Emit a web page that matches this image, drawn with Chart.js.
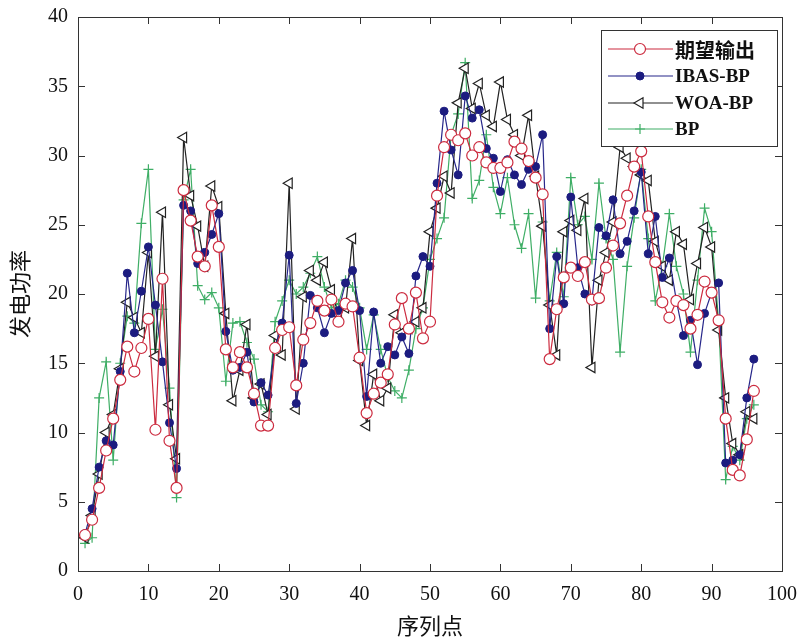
<!DOCTYPE html>
<html>
<head>
<meta charset="utf-8">
<script src="https://cdn.jsdelivr.net/npm/chart.js@4.4.1/dist/chart.umd.min.js"></script>
<style>
  html, body { margin: 0; padding: 0; background: #fff; }
  #wrap { width: 805px; height: 639px; position: relative; }
</style>
</head>
<body>
<div id="wrap"><canvas id="powerChart"></canvas></div>
<script>
// 序列点 1..96
const seqPoints = Array.from({ length: 96 }, (_, i) => i + 1);

const expectedOut = [
  2.6, 3.7, 6.0, 8.7, 11.0, 13.8, 16.2, 14.4, 16.1, 18.2,
  10.2, 21.1, 9.4, 6.0, 27.5, 25.3, 22.7, 22.0, 26.4, 23.4,
  16.0, 14.7, 15.8, 14.7, 12.8, 10.5, 10.5, 16.1, 17.4, 17.6,
  13.4, 16.7, 17.9, 19.5, 18.8, 19.6, 18.0, 19.3, 19.1, 15.4,
  11.4, 12.8, 13.6, 14.2, 17.8, 19.7, 17.5, 20.1, 16.8, 18.0,
  27.1, 30.6, 31.5, 31.1, 31.6, 30.0, 30.6, 29.5, 29.1, 29.1,
  29.5, 31.0, 30.5, 29.6, 28.4, 27.2, 15.3, 18.9, 21.2, 21.9,
  21.3, 22.3, 19.6, 19.7, 21.9, 23.5, 25.1, 27.1, 29.2, 30.3,
  25.6, 22.3, 19.4, 18.3, 19.5, 19.2, 17.5, 18.5, 20.9, 20.1,
  18.1, 11.0, 7.3, 6.9, 9.5, 13.0
];

const ibasBP = [
  2.7, 4.5, 7.5, 9.4, 9.1, 14.4, 21.5, 17.2, 20.2, 23.4,
  19.2, 15.1, 10.7, 7.4, 26.4, 26.0, 22.2, 23.0, 24.3, 25.8,
  17.3, 14.5, 14.7, 15.8, 12.2, 13.6, 12.7, 16.2, 17.9, 22.8,
  12.1, 15.0, 19.9, 19.0, 17.2, 18.6, 18.8, 20.8, 21.7, 18.8,
  12.6, 18.7, 15.0, 16.2, 15.6, 16.9, 15.7, 21.3, 22.7, 22.0,
  28.0, 33.2, 30.4, 28.6, 34.3, 32.7, 33.3, 30.5, 29.8, 27.4,
  29.7, 28.6, 27.9, 29.0, 29.2, 31.5, 17.5, 22.7, 19.3, 27.0,
  21.9, 20.0, 19.5, 24.8, 24.2, 26.8, 22.9, 23.8, 26.0, 28.8,
  22.9, 25.6, 21.2, 22.6, 19.5, 17.0, 18.1, 14.9, 18.6, 20.1,
  20.8, 7.8, 8.0, 8.4, 12.5, 15.3
];

const woaBP = [
  2.4, 4.0, 7.0, 10.0, 11.3, 14.6, 19.4, 18.3, 17.2, 23.0,
  15.5, 25.9, 12.0, 8.1, 31.3, 27.1, 24.9, 22.0, 27.8, 26.3,
  18.6, 12.3, 14.5, 17.8, 12.5, 13.5, 11.3, 17.0, 15.6, 28.0,
  11.7, 19.8, 21.7, 21.0, 22.3, 20.3, 18.5, 19.0, 24.0, 15.2,
  10.5, 14.2, 12.3, 13.2, 18.5, 17.2, 17.5, 18.0, 19.0, 24.5,
  26.2, 28.5, 27.3, 33.8, 36.3, 33.4, 35.2, 32.9, 32.1, 35.3,
  32.6, 31.5, 30.0, 32.9, 28.5, 24.9, 19.2, 15.6, 24.5, 25.3,
  24.6, 26.9, 14.7, 21.0, 23.0, 25.2, 30.6, 29.8, 29.2, 28.6,
  28.2, 23.8, 22.0, 21.0, 24.5, 23.6, 19.6, 22.2, 24.8, 23.4,
  17.4, 12.5, 9.2, 8.4, 11.5, 11.0
];

const plainBP = [
  2.0, 2.4, 12.5, 15.1, 8.0, 15.0, 18.4, 17.9, 25.1, 29.0,
  16.0, 18.9, 13.2, 5.3, 26.8, 29.0, 20.6, 19.6, 20.1, 19.0,
  13.7, 17.9, 18.0, 16.5, 15.3, 12.0, 11.5, 18.0, 19.5, 21.0,
  20.0, 20.5, 21.5, 22.7, 20.5, 19.0, 19.3, 21.0, 20.5, 19.0,
  16.0, 18.5, 16.0, 14.0, 13.0, 12.5, 14.5, 17.5, 19.0, 22.5,
  24.0, 25.5, 31.5, 33.0, 36.7, 26.9, 28.2, 31.5, 27.7, 25.8,
  28.4, 25.0, 23.3, 25.8, 19.7, 25.2, 19.5, 23.0, 19.8, 28.4,
  25.0, 25.6, 22.5, 28.0, 24.0, 22.5, 15.8, 22.0, 25.5, 29.0,
  24.0, 19.5, 22.0, 25.8, 22.0, 20.0, 15.8, 21.0, 26.2, 24.5,
  18.0, 6.6, 9.0, 8.0, 11.0, 12.0
];

const yTicks = [0, 5, 10, 15, 20, 25, 30, 35, 40];
const xTicks = [0, 10, 20, 30, 40, 50, 60, 70, 80, 90, 100];

const serif = '"Liberation Serif", "Times New Roman", serif';
const cjk = '"Noto Sans CJK SC", sans-serif';

function toPoints(arr) {
  return arr.map((v, i) => ({ x: seqPoints[i], y: v }));
}

// 边框 + 向内刻度 (MATLAB 风格)
const frameTicks = {
  id: 'frameTicks',
  afterDraw(chart) {
    const { ctx, chartArea: a, scales } = chart;
    ctx.save();
    ctx.strokeStyle = '#333';
    ctx.lineWidth = 1;
    ctx.strokeRect(a.left + 0.5, a.top + 0.5, a.right - a.left, a.bottom - a.top);
    const len = 7;
    ctx.beginPath();
    xTicks.forEach(t => {
      const px = Math.round(scales.x.getPixelForValue(t)) + 0.5;
      ctx.moveTo(px, a.bottom); ctx.lineTo(px, a.bottom - len);
      ctx.moveTo(px, a.top); ctx.lineTo(px, a.top + len);
    });
    yTicks.forEach(t => {
      const py = Math.round(scales.y.getPixelForValue(t)) + 0.5;
      ctx.moveTo(a.left, py); ctx.lineTo(a.left + len, py);
      ctx.moveTo(a.right, py); ctx.lineTo(a.right - len, py);
    });
    ctx.stroke();
    ctx.restore();
  }
};

// 图例框
const legendBox = {
  id: 'legendBox',
  afterDraw(chart) {
    const ctx = chart.ctx;
    const bx = 601, by = 30, bw = 176, bh = 116;
    ctx.save();
    ctx.fillStyle = '#fff';
    ctx.fillRect(bx, by, bw, bh);
    ctx.strokeStyle = '#333';
    ctx.lineWidth = 1;
    ctx.strokeRect(bx + 0.5, by + 0.5, bw, bh);
    const rows = [49, 76, 103, 129];
    chart.data.datasets.forEach((ds, i) => {
      const y = rows[i];
      ctx.strokeStyle = ds.borderColor;
      ctx.lineWidth = 1.2;
      ctx.beginPath();
      ctx.moveTo(608, y); ctx.lineTo(673, y);
      ctx.stroke();
      ctx.fillStyle = ds.pointBackgroundColor;
      ctx.strokeStyle = ds.pointBorderColor;
      ctx.lineWidth = ds.pointBorderWidth;
      Chart.helpers.drawPoint(ctx, {
        pointStyle: ds.pointStyle,
        rotation: ds.pointRotation || 0,
        radius: ds.pointRadius,
        borderWidth: ds.pointBorderWidth
      }, 640, y);
      ctx.fillStyle = '#111';
      ctx.textBaseline = 'middle';
      ctx.textAlign = 'left';
      ctx.font = i === 0 ? 'bold 20px ' + cjk : 'bold 19px ' + serif;
      ctx.fillText(ds.label, 675, y + 1);
    });
    ctx.restore();
  }
};

const ctx = document.getElementById('powerChart').getContext('2d');

new Chart(ctx, {
  type: 'line',
  data: {
    datasets: [
      {
        label: '期望输出',
        data: toPoints(expectedOut),
        borderColor: '#cc2b3f',
        borderWidth: 1.2,
        pointStyle: 'circle',
        pointRadius: 5.5,
        pointBorderWidth: 1.2,
        pointBorderColor: '#cc2b3f',
        pointBackgroundColor: '#ffffff'
      },
      {
        label: 'IBAS-BP',
        data: toPoints(ibasBP),
        borderColor: '#27278a',
        borderWidth: 1.2,
        pointStyle: 'circle',
        pointRadius: 4,
        pointBorderWidth: 1,
        pointBorderColor: '#1c1c80',
        pointBackgroundColor: '#1c1c80'
      },
      {
        label: 'WOA-BP',
        data: toPoints(woaBP),
        borderColor: '#222222',
        borderWidth: 1.2,
        pointStyle: 'triangle',
        pointRotation: -90,
        pointRadius: 6,
        pointBorderWidth: 1.2,
        pointBorderColor: '#222222',
        pointBackgroundColor: '#ffffff'
      },
      {
        label: 'BP',
        data: toPoints(plainBP),
        borderColor: '#3fae66',
        borderWidth: 1.2,
        pointStyle: 'cross',
        pointRadius: 5,
        pointBorderWidth: 1.2,
        pointBorderColor: '#3fae66',
        pointBackgroundColor: '#ffffff'
      }
    ]
  },
  options: {
    responsive: true,
    maintainAspectRatio: false,
    animation: false,
    layout: { padding: { top: 17, right: 23, left: 0, bottom: 0 } },
    plugins: {
      legend: { display: false },
      tooltip: { enabled: false }
    },
    scales: {
      x: {
        type: 'linear',
        min: 0,
        max: 100,
        afterBuildTicks: s => { s.ticks = xTicks.map(v => ({ value: v })); },
        grid: { display: false },
        border: { display: false },
        ticks: {
          color: '#111',
          font: { family: serif, size: 20 },
          padding: 4,
          maxRotation: 0
        },
        title: {
          display: true,
          text: '序列点',
          color: '#111',
          font: { family: cjk, size: 22 },
          padding: { top: 0, bottom: 0 }
        },
        afterFit: s => { s.height = 68; }
      },
      y: {
        min: 0,
        max: 40,
        afterBuildTicks: s => { s.ticks = yTicks.map(v => ({ value: v })); },
        grid: { display: false },
        border: { display: false },
        ticks: {
          color: '#111',
          font: { family: serif, size: 20 },
          padding: 2
        },
        title: {
          display: true,
          text: '发电功率',
          color: '#111',
          font: { family: cjk, size: 22 },
          padding: { top: 6, bottom: 4 }
        },
        afterFit: s => { s.width = 78; }
      }
    }
  },
  plugins: [frameTicks, legendBox]
});
</script>
</body>
</html>
